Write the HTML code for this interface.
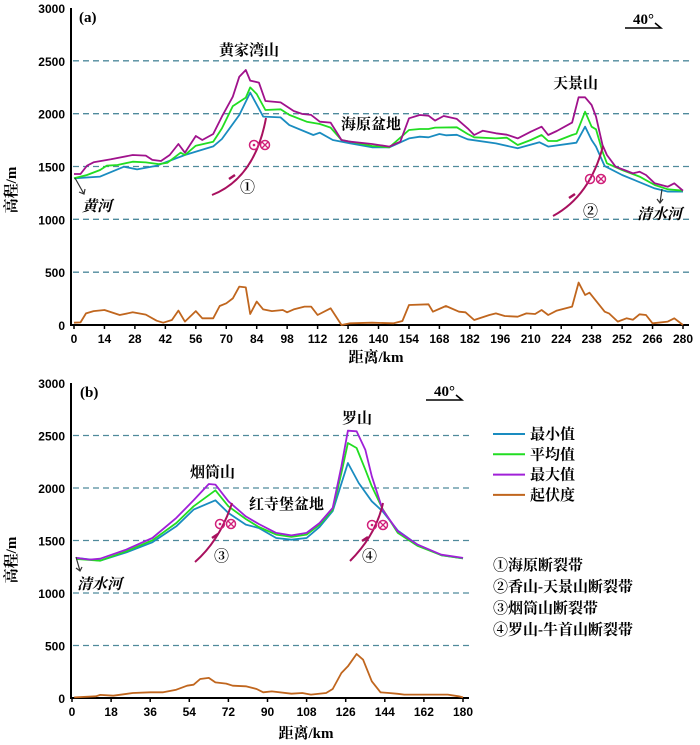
<!DOCTYPE html>
<html><head><meta charset="utf-8">
<style>
html,body{margin:0;padding:0;background:#fff;}
svg{display:block;font-family:"Liberation Serif","Noto Serif CJK SC",serif;}
.tick{font-family:"Liberation Sans",sans-serif;font-weight:bold;font-size:12px;fill:#000;}
.lbl{font-size:15px;fill:#000;font-weight:bold;}
</style></head>
<body>
<svg id="chart" width="700" height="745" viewBox="0 0 700 745" xmlns="http://www.w3.org/2000/svg"></svg>
<script>
// ---------- Panel (a) data ----------
const aTickLabels = [0,14,28,42,56,70,84,98,112,126,140,154,168,182,196,210,224,238,252,266,280];
const aYTicks = [0,500,1000,1500,2000,2500,3000];
const aMaxKm = [0,3,6,9,17,27,33,36,40,44,48,51,56,59,64,68,73,76,79,81,85,88,95,101,105,109,113,118,123,127,137,145,150,154,159,163,166,170,176,181,184,188,194,199,204,210,215,218,222,229,232,235,238,240,243,245,249,253,257,260,263,267,273,276,280];
const aMaxVal = [1429,1429,1508,1540,1568,1609,1603,1562,1552,1609,1713,1631,1789,1751,1808,1972,2161,2350,2413,2313,2294,2120,2107,2025,1997,1988,1924,1915,1751,1735,1713,1688,1735,1956,1987,1981,1934,1978,1950,1861,1798,1839,1814,1801,1766,1829,1877,1798,1836,1915,2155,2155,2082,1972,1703,1609,1498,1467,1435,1451,1420,1341,1309,1341,1271];
const aAvgKm = [0,6,12,15,20,27,33,39,43,49,51,56,64,68,73,79,81,84,88,95,99,107,113,118,123,137,145,154,159,163,166,176,181,184,194,199,204,210,215,218,222,229,231,235,238,240,243,245,252,260,267,273,280];
const aAvgVal = [1388,1420,1467,1508,1514,1545,1539,1523,1536,1631,1609,1697,1735,1861,2072,2152,2249,2186,2035,2041,1988,1924,1902,1868,1751,1694,1682,1845,1855,1855,1868,1871,1808,1776,1766,1773,1703,1751,1798,1741,1741,1798,1810,2019,1877,1852,1640,1530,1467,1404,1325,1284,1271];
const aMinKm = [0,12,23,29,38,51,64,68,76,81,87,95,99,110,113,119,127,137,145,154,159,163,168,171,176,181,194,204,214,218,231,235,238,240,244,252,267,273,280];
const aMinVal = [1388,1404,1498,1473,1508,1609,1690,1760,1987,2199,1972,1965,1892,1798,1820,1751,1719,1682,1682,1766,1782,1776,1808,1795,1800,1757,1719,1672,1729,1688,1725,1877,1751,1688,1504,1420,1293,1262,1262];
const aRelKm = [0,3,5.5,9,14,21,27,33,38,41,45,48,51,56,59,64,67,70,73,76,79,81,84,87,91,96,98,101,106,109,112,118,123,127,137,147,151,154,163,165,171,177,180,184,191,194,198,204,208,212,215,218,222,229,232,235,237,244,246,250,254,257,260,263,266,273,276,280];
const aRelVal = [22,25,110,132,142,95,120,98,41,22,47,136,32,132,63,63,180,205,252,363,356,104,221,148,132,142,120,148,174,174,95,158,0,16,22,16,38,189,196,126,180,126,120,47,95,110,85,79,110,104,142,95,136,174,401,284,306,126,110,32,63,50,101,95,16,32,63,0];

// ---------- Panel (b) data ----------
const bTickLabels = [0,18,36,54,72,90,108,126,144,162,180];
const bYTicks = [0,500,1000,1500,2000,2500,3000];
const bMaxKm = [2,8,13,25,37,48,56,63,66,72,80,86,94,101,108,114,120,124,127,131,135,138,143,150,159,170,180];
const bMaxVal = [1334,1318,1327,1413,1524,1715,1883,2038,2032,1873,1730,1657,1572,1549,1572,1667,1810,2207,2546,2540,2365,2111,1794,1588,1461,1365,1334];
const bAvgKm = [2,13,25,37,48,56,66,72,80,86,94,101,108,114,120,124,127,131,135,138,143,150,159,170,180];
const bAvgVal = [1324,1308,1397,1502,1667,1826,1978,1826,1705,1629,1556,1534,1556,1651,1794,2143,2429,2381,2175,2016,1800,1572,1450,1360,1330];
const bMinKm = [2,13,25,37,48,56,66,72,80,86,94,101,108,114,120,127,132,138,143,150,159,170,180];
const bMinVal = [1334,1308,1387,1483,1635,1794,1883,1762,1651,1619,1524,1508,1524,1630,1780,2238,2048,1873,1778,1594,1461,1360,1330];
const bRelKm = [1,11,13,19,28,36,42,48,53,56,59,63,66,71,74,80,85,88,92,101,106,110,117,120,124,127,131,134,138,142,146,150,153,173,178,180];
const bRelVal = [6,16,30,22,48,54,54,79,117,127,181,191,149,137,117,111,86,54,63,41,48,32,48,86,238,302,419,365,159,54,48,40,32,32,16,6];

const NS = "http://www.w3.org/2000/svg";
const svg = document.getElementById('chart');
function mk(tag, attrs, parent) {
  const e = document.createElementNS(NS, tag);
  for (const k in attrs) e.setAttribute(k, attrs[k]);
  (parent || svg).appendChild(e);
  return e;
}
function txt(str, x, y, cls, extra, parent) {
  const t = mk('text', Object.assign({x: x, y: y, class: cls}, extra || {}), parent);
  t.textContent = str;
  return t;
}

const COL = {min: '#1a8cc0', avg: '#22dd22', max: '#a0189a', rel: '#c0661e'};

function panel(cfg) {
  const g = mk('g', {});
  
  
  const sx = km => cfg.x0 + km / cfg.kmMax * (cfg.x1 - cfg.x0);
  const sy = v => cfg.y0 - v / 3000 * (cfg.y0 - cfg.y3000);
  cfg.yTicks.forEach(v => {
    if (v > 0 && v < 3000) {
      const l = mk('line', {x1: cfg.ax + 2, x2: cfg.x1 + 6, y1: sy(v), y2: sy(v), stroke: '#4f8a9c', 'stroke-width': 1.3, 'stroke-dasharray': '6,4'}, g);
      
      
    }
    const t = txt(String(v), cfg.ax - 6, sy(v) + 5, 'tick', {'text-anchor': 'end'}, g);
    
    
  });
  const ya = mk('line', {x1: cfg.ax, x2: cfg.ax, y1: cfg.y3000, y2: cfg.y0 + 1, stroke: '#000', 'stroke-width': 2}, g);
  
  
  const xa = mk('line', {x1: cfg.ax - 1, x2: cfg.x1 + 6, y1: cfg.y0, y2: cfg.y0, stroke: '#000', 'stroke-width': 2}, g);
  
  
  cfg.xTicks.forEach(k => {
    mk('line', {x1: sx(k), x2: sx(k), y1: cfg.y0, y2: cfg.y0 + 4, stroke: '#000', 'stroke-width': 1.5}, g);
    const t = txt(String(k), sx(k), cfg.y0 + 18, 'tick', {'text-anchor': 'middle'}, g);
    
    
  });
  const series = [
    ['relief-line', cfg.rel[0], cfg.rel[1], COL.rel],
    ['min-line', cfg.min[0], cfg.min[1], COL.min],
    ['avg-line', cfg.avg[0], cfg.avg[1], COL.avg],
    ['max-line', cfg.max[0], cfg.max[1], cfg.maxCol],
  ];
  series.forEach(s => {
    const pts = s[1].map((k, i) => sx(k).toFixed(1) + ',' + sy(s[2][i]).toFixed(1)).join(' ');
    const p = mk('polyline', {points: pts, fill: 'none', stroke: s[3], 'stroke-width': 1.8, 'stroke-linejoin': 'round'}, g);
    
    
  });
  return g;
}

panel({name: 'panel-a', ax: 71, x0: 74, x1: 683, kmMax: 280, y0: 325, y3000: 8,
  yTicks: aYTicks, xTicks: aTickLabels, maxCol: '#a0128c',
  min: [aMinKm, aMinVal], avg: [aAvgKm, aAvgVal], max: [aMaxKm, aMaxVal], rel: [aRelKm, aRelVal]});
panel({name: 'panel-b', ax: 71, x0: 72, x1: 463, kmMax: 180, y0: 698, y3000: 383,
  yTicks: bYTicks, xTicks: bTickLabels, maxCol: '#a020d8',
  min: [bMinKm, bMinVal], avg: [bAvgKm, bAvgVal], max: [bMaxKm, bMaxVal], rel: [bRelKm, bRelVal]});

function label(str, x, y, name, extra) {
  const t = txt(str, x, y, 'lbl', extra);
  
  
  return t;
}
label('(a)', 79, 22, 'panel-a-label', {'font-size': 13});
label('(b)', 80, 397, 'panel-b-label', {'font-size': 13});
label('黄家湾山', 219, 55, 'label-huangjiawan-mountain');
label('海原盆地', 341, 129, 'label-haiyuan-basin');
label('天景山', 553, 88, 'label-tianjing-mountain');
label('黄河', 82, 211, 'label-yellow-river', {'font-style': 'italic'});
label('清水河', 637, 219, 'label-qingshui-river-a', {'font-style': 'italic'});
label('罗山', 342, 423, 'label-luo-mountain');
label('烟筒山', 190, 477, 'label-yantong-mountain');
label('红寺堡盆地', 249, 509, 'label-hongsibao-basin');
label('清水河', 77, 589, 'label-qingshui-river-b', {'font-style': 'italic'});
label('①', 240, 192, 'fault-1-marker', {'font-size': 16, 'font-weight': 'normal'});
label('②', 583, 216, 'fault-2-marker', {'font-size': 16, 'font-weight': 'normal'});
label('③', 214, 561, 'fault-3-marker', {'font-size': 16, 'font-weight': 'normal'});
label('④', 362, 561, 'fault-4-marker', {'font-size': 16, 'font-weight': 'normal'});

let t = txt('高程/m', 16, 190, 'lbl', {transform: 'rotate(-90 16 190)', 'text-anchor': 'middle', 'font-size': 17});
 
t = txt('高程/m', 16, 560, 'lbl', {transform: 'rotate(-90 16 560)', 'text-anchor': 'middle', 'font-size': 17});
 
t = txt('距离/km', 376, 362, 'lbl', {'text-anchor': 'middle', 'font-size': 16});
 
t = txt('距离/km', 306, 738, 'lbl', {'text-anchor': 'middle', 'font-size': 16});
 

function dirArrow(x, y, name) {
  const g = mk('g', {});
  
  
  txt('40°', x + 8, y - 4, 'lbl', {'font-size': 14}, g);
  mk('path', {d: `M${x},${y} H${x + 36} l-6,-5`, fill: 'none', stroke: '#000', 'stroke-width': 1.5}, g);
}
dirArrow(625, 28, 'direction-arrow-a');
dirArrow(426, 400, 'direction-arrow-b');

mk('path', {d: 'M75,178 L84,194 M79,192 l5,2 1,-5', fill: 'none', stroke: '#333', 'stroke-width': 1.2});
mk('path', {d: 'M662,189 L660,203 M657,199 l3,4 3,-4', fill: 'none', stroke: '#333', 'stroke-width': 1.2});
mk('path', {d: 'M76,557 L80,571 M76,568 l4,3 2,-4', fill: 'none', stroke: '#333', 'stroke-width': 1.2});

function fault(d, ax, ay, cx, cy, name) {
  const g = mk('g', {});
  
  
  mk('path', {d: d, fill: 'none', stroke: '#a8105e', 'stroke-width': 2}, g);
  mk('path', {d: `M${ax},${ay} l6,-4`, stroke: '#a8105e', 'stroke-width': 2.5}, g);
  // ⊙⊗ symbols
  mk('circle', {cx: cx, cy: cy, r: 4.5, fill: 'none', stroke: '#d0207a', 'stroke-width': 1.5}, g);
  mk('circle', {cx: cx, cy: cy, r: 1.3, fill: '#d0207a'}, g);
  mk('circle', {cx: cx + 11, cy: cy, r: 4.5, fill: 'none', stroke: '#d0207a', 'stroke-width': 1.5}, g);
  mk('path', {d: `M${cx + 8},${cy - 3} l6,6 M${cx + 14},${cy - 3} l-6,6`, stroke: '#d0207a', 'stroke-width': 1.3}, g);
}
fault('M212,195 Q255,178 266,118', 229, 179, 254, 145, 'fault-curve-1');
fault('M553,216 Q590,196 603,146', 569, 198, 590, 179, 'fault-curve-2');
fault('M195,562 Q220,540 232,503', 212, 538, 220, 524, 'fault-curve-3');
fault('M350,561 Q376,535 383,503', 362, 541, 372, 525, 'fault-curve-4');

const legItems = [['最小值', COL.min, 'legend-min'], ['平均值', COL.avg, 'legend-avg'], ['最大值', '#a020d8', 'legend-max'], ['起伏度', COL.rel, 'legend-relief']];
legItems.forEach((it, i) => {
  const g = mk('g', {});
  
  
  const y = 434 + i * 20.3;
  mk('line', {x1: 493, x2: 525, y1: y, y2: y, stroke: it[1], 'stroke-width': 2}, g);
  txt(it[0], 530, y + 5, 'lbl', {'font-size': 15}, g);
});
const faults = ['①海原断裂带', '②香山-天景山断裂带', '③烟筒山断裂带', '④罗山-牛首山断裂带'];
faults.forEach((s, i) => {
  const tt = txt(s, 493, 570 + i * 21.5, 'lbl', {'font-size': 15});
  
  
});
</script>
</body></html>
